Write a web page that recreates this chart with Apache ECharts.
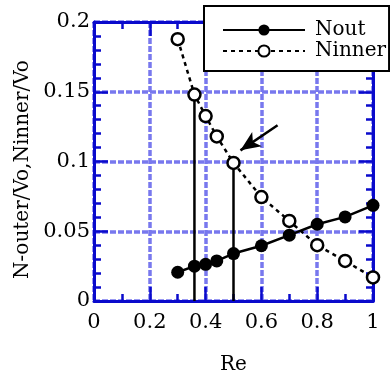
<!DOCTYPE html>
<html>
<head>
<meta charset="utf-8">
<script src="https://cdn.jsdelivr.net/npm/echarts@6/dist/echarts.min.js"></script>
<style>
html,body{margin:0;padding:0;background:#fff;}
#chart{width:390px;height:380px;}
</style>
</head>
<body>
<div id="chart"></div>
<script>
// ---- data ----
const reValues = [0.3, 0.36, 0.4, 0.44, 0.5, 0.6, 0.7, 0.8, 0.9, 1.0];
const noutValues = [0.0206, 0.025, 0.0263, 0.0287, 0.034, 0.0396, 0.0472, 0.055, 0.0603, 0.0686];
const ninnerValues = [0.1877, 0.148, 0.1326, 0.118, 0.099, 0.0745, 0.0574, 0.040, 0.0287, 0.0169];
const dropIndices = [1, 4];           // vertical drop lines at Re = 0.36 and 0.5
const arrowFrom = [0.658, 0.126];
const arrowTo = [0.525, 0.108];
const seriesNames = ['Nout', 'Ninner'];
const xName = 'Re';
const yName = 'N-outer/Vo,Ninner/Vo';

const FONT = 'DejaVu Serif';
const AXIS_BLUE = '#0a0acc';
const GRID_BLUE = '#7878ee';

const pairs = (xs, ys) => xs.map((x, i) => [x, ys[i]]);

const baseAxisX = {
  type: 'value', min: 0, max: 1, interval: 0.2,
  axisLine: { show: true, onZero: false, lineStyle: { color: AXIS_BLUE, width: 3 } },
  axisTick: { show: true, inside: true, length: 14, lineStyle: { color: AXIS_BLUE, width: 2.5 } },
  minorTick: { show: true, splitNumber: 2, length: 7, lineStyle: { color: AXIS_BLUE, width: 2.5 } },
};
const baseAxisY = {
  type: 'value', min: 0, max: 0.2, interval: 0.05,
  axisLine: { show: true, onZero: false, lineStyle: { color: AXIS_BLUE, width: 3 } },
  axisTick: { show: true, inside: true, length: 14, lineStyle: { color: AXIS_BLUE, width: 2.5 } },
  minorTick: { show: true, splitNumber: 5, length: 7, lineStyle: { color: AXIS_BLUE, width: 2.5 } },
};

const dropSeries = dropIndices.map((idx) => ({
  type: 'line',
  data: [[reValues[idx], 0], [reValues[idx], ninnerValues[idx]]],
  symbol: 'none',
  lineStyle: { color: '#000', width: 2.5 },
  z: 1,
  silent: true,
  animation: false,
}));

const chart = echarts.init(document.getElementById('chart'), null, { renderer: 'canvas' });
chart.setOption({
  animation: false,
  backgroundColor: '#fff',
  textStyle: { fontFamily: FONT },
  grid: { left: 94, right: 17, top: 22, bottom: 77, containLabel: false },
  legend: {
    data: seriesNames,
    orient: 'vertical',
    left: 204, top: 6,
    padding: [14, 3, 10, 18],
    itemGap: 1,
    itemWidth: 82,
    itemHeight: 14,
    backgroundColor: '#fff',
    borderColor: '#000',
    borderWidth: 2,
    borderRadius: 0,
    textStyle: { fontFamily: FONT, fontSize: 20, color: '#000', lineHeight: 20, padding: [0, 0, 0, 5] },
    z: 10,
  },
  xAxis: [
    Object.assign({}, baseAxisX, {
      position: 'bottom',
      name: xName, nameLocation: 'middle', nameGap: 54,
      nameTextStyle: { fontFamily: FONT, fontSize: 20, color: '#000' },
      axisLabel: { show: true, margin: 11, fontFamily: FONT, fontSize: 21, color: '#000' },
      splitLine: { show: true, lineStyle: { color: GRID_BLUE, width: 3.5, type: [6, 2] } },
    }),
    Object.assign({}, baseAxisX, {
      position: 'top',
      axisLabel: { show: false },
      splitLine: { show: false },
    }),
  ],
  yAxis: [
    Object.assign({}, baseAxisY, {
      position: 'left',
      name: yName, nameLocation: 'middle', nameGap: 56,
      nameTextStyle: { fontFamily: FONT, fontSize: 20, color: '#000', padding: [0, 16, 0, 0] },
      axisLabel: { show: true, margin: 4, fontFamily: FONT, fontSize: 21, color: '#000' },
      splitLine: { show: true, lineStyle: { color: GRID_BLUE, width: 3.5, type: [6, 2] } },
    }),
    Object.assign({}, baseAxisY, {
      position: 'right',
      axisLabel: { show: false },
      splitLine: { show: false },
    }),
  ],
  series: dropSeries.concat([
    {
      name: seriesNames[0],
      type: 'line',
      data: pairs(reValues, noutValues),
      symbol: 'circle',
      symbolSize: 13,
      lineStyle: { color: '#000', width: 2.5, type: 'solid' },
      itemStyle: { color: '#000', borderColor: '#000', borderWidth: 0 },
      z: 3,
    },
    {
      name: seriesNames[1],
      type: 'line',
      data: pairs(reValues, ninnerValues),
      symbol: 'circle',
      symbolSize: 12,
      lineStyle: { color: '#000', width: 2.5, type: [4, 4] },
      itemStyle: { color: '#fff', borderColor: '#000', borderWidth: 2.5 },
      z: 3,
      markLine: {
        silent: true,
        symbol: ['none', 'arrow'],
        symbolSize: [13, 20],
        label: { show: false },
        lineStyle: { color: '#000', width: 2.5, type: 'solid' },
        data: [[{ coord: arrowFrom }, { coord: arrowTo }]],
        animation: false,
      },
    },
  ]),
});
</script>
</body>
</html>
